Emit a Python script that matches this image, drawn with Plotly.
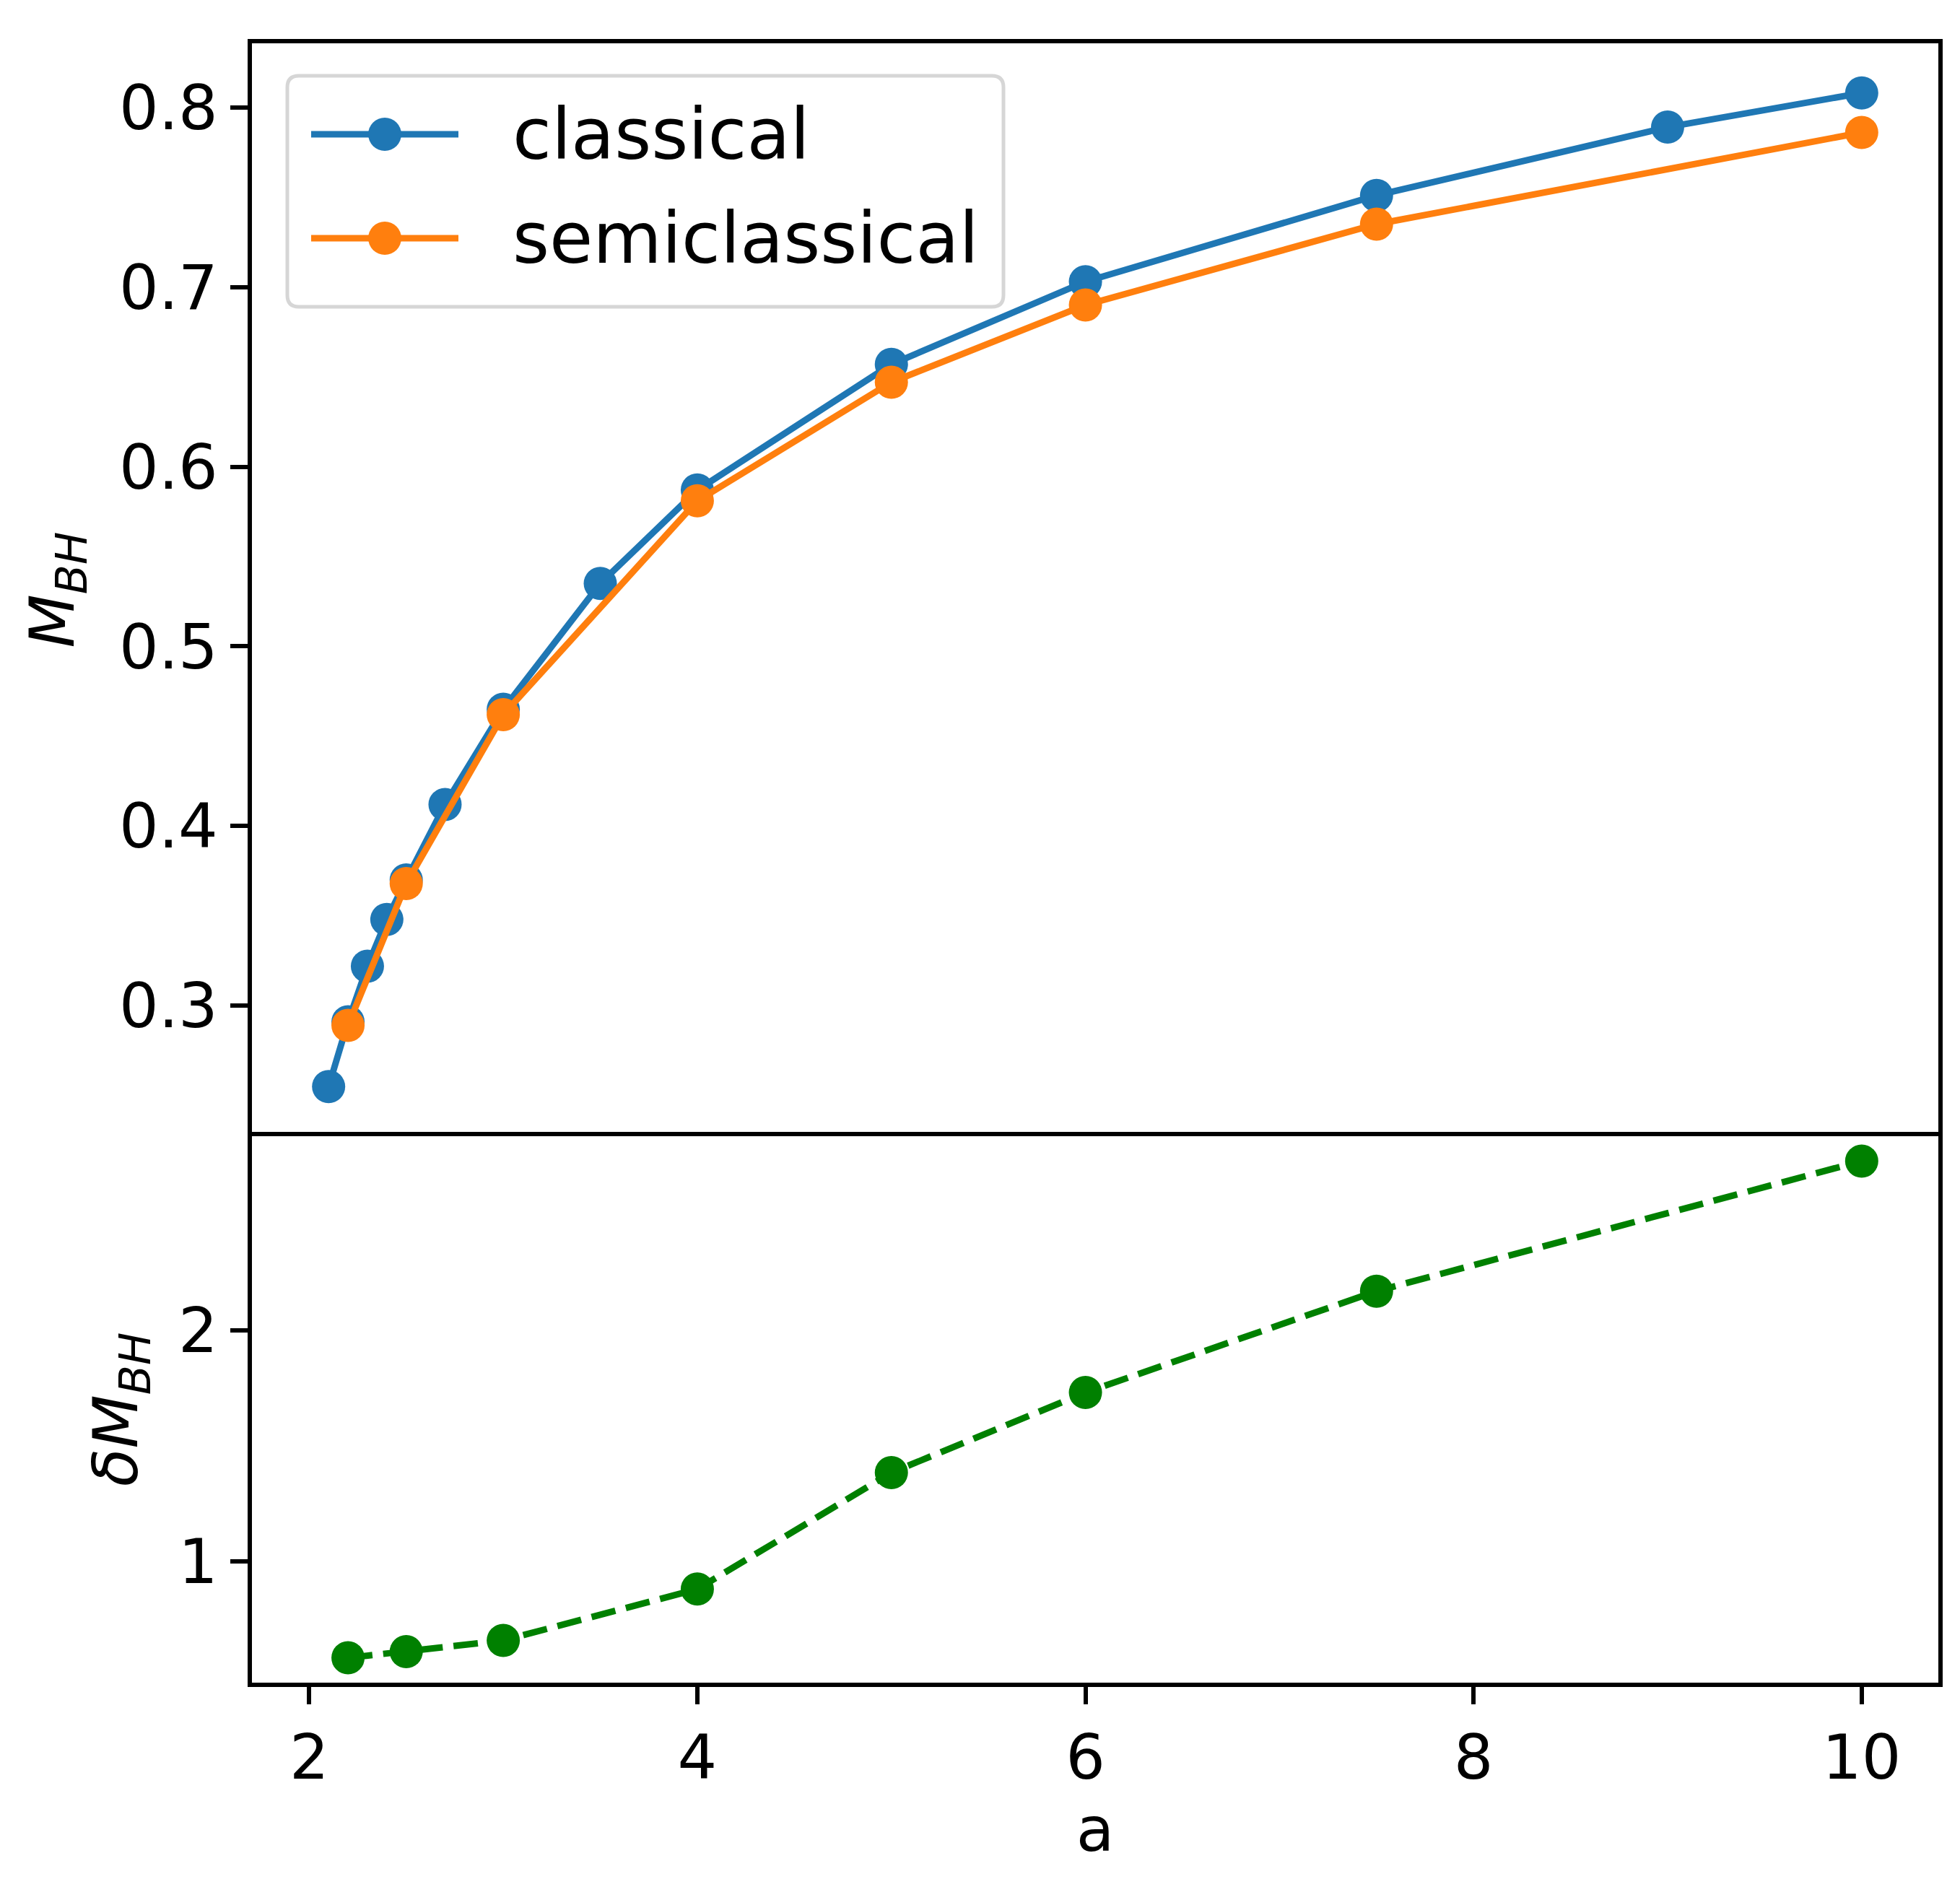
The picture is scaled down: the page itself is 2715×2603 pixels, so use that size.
import plotly.graph_objects as go
from plotly.subplots import make_subplots

# black hole mass vs a
a_classical = [2.1, 2.2, 2.3, 2.4, 2.5, 2.7, 3.0, 3.5, 4.0, 5.0, 6.0, 7.5, 9.0, 10.0]
m_classical = [0.255, 0.291, 0.322, 0.348, 0.370, 0.412, 0.465, 0.535, 0.587,
               0.657, 0.703, 0.751, 0.789, 0.808]

a_semi = [2.2, 2.5, 3.0, 4.0, 5.0, 6.0, 7.5, 10.0]
m_semi = [0.289, 0.368, 0.462, 0.581, 0.647, 0.690, 0.735, 0.786]

a_delta = [2.2, 2.5, 3.0, 4.0, 5.0, 6.0, 7.5, 10.0]
delta_m = [0.584, 0.611, 0.659, 0.881, 1.384, 1.730, 2.168, 2.730]

series_names = ["classical", "semiclassical"]

x_ticks = [2, 4, 6, 8, 10]
top_ticks = [0.3, 0.4, 0.5, 0.6, 0.7, 0.8]
bottom_ticks = [1, 2]

BLUE = "#1f77b4"
ORANGE = "#ff7f0e"
GREEN = "#008000"
FONT = "DejaVu Sans"
MSIZE = 46
LW = 9

W, H = 2715, 2603
PL, PR, PT, PB = 341, 2677, 52, 2323  # plot area in pixels


def px(x):
    return (x - PL) / (PR - PL)


def py(y):
    return (PB - y) / (PB - PT)


def padded(vals, frac=0.05):
    lo, hi = min(vals), max(vals)
    d = (hi - lo) * frac
    return [lo - d, hi + d]


fig = make_subplots(rows=2, cols=1, shared_xaxes=True, vertical_spacing=0,
                    row_heights=[2, 1])

fig.add_trace(go.Scatter(x=a_classical, y=m_classical, mode="lines+markers",
                         name=series_names[0],
                         line=dict(color=BLUE, width=LW),
                         marker=dict(color=BLUE, size=MSIZE)), row=1, col=1)
fig.add_trace(go.Scatter(x=a_semi, y=m_semi, mode="lines+markers",
                         name=series_names[1],
                         line=dict(color=ORANGE, width=LW),
                         marker=dict(color=ORANGE, size=MSIZE)), row=1, col=1)
fig.add_trace(go.Scatter(x=a_delta, y=delta_m, mode="lines+markers",
                         line=dict(color=GREEN, width=LW, dash="34px,15px"),
                         marker=dict(color=GREEN, size=MSIZE)), row=2, col=1)

axis_style = dict(showline=True, linecolor="black", linewidth=6, mirror=True,
                  showgrid=False, zeroline=False, ticks="outside",
                  ticklen=24, tickwidth=6, tickcolor="black",
                  tickfont=dict(family=FONT, size=86, color="black"))
title_font = dict(family=FONT, size=86, color="black")

x_range = padded(a_classical)
fig.update_xaxes(range=x_range, tickvals=x_ticks, **axis_style)
# top panel: only draw the top frame edge, the divider comes from the lower panel
fig.update_xaxes(showticklabels=False, ticks="", mirror=False, side="top",
                 row=1, col=1)
fig.update_xaxes(title=dict(text="a", font=title_font, standoff=16), row=2, col=1)

fig.update_yaxes(range=padded(m_classical + m_semi), tickvals=top_ticks,
                 tickformat=".1f", row=1, col=1, **axis_style)
fig.update_yaxes(range=padded(delta_m), tickvals=bottom_ticks, row=2, col=1,
                 **axis_style)
fig.update_yaxes(title=dict(text="<i>M</i><sub><i>BH</i></sub>",
                            font=title_font, standoff=36), row=1, col=1)
fig.update_yaxes(title=dict(text="<i>δM</i><sub><i>BH</i></sub>",
                            font=title_font, standoff=30), row=2, col=1)

# legend box drawn by hand so the symbols keep the full marker size
bx0, bx1, by0, by1, r = 390, 1382, 97, 417, 16
rx, ry = r / (PR - PL), r / (PB - PT)
X0, X1, Y0, Y1 = px(bx0), px(bx1), py(by0), py(by1)
box_path = (f"M{X0 + rx},{Y0} L{X1 - rx},{Y0} Q{X1},{Y0} {X1},{Y0 - ry} "
            f"L{X1},{Y1 + ry} Q{X1},{Y1} {X1 - rx},{Y1} "
            f"L{X0 + rx},{Y1} Q{X0},{Y1} {X0},{Y1 + ry} "
            f"L{X0},{Y0 - ry} Q{X0},{Y0} {X0 + rx},{Y0} Z")
fig.add_shape(type="path", path=box_path, xref="paper", yref="paper",
              fillcolor="rgba(255,255,255,0.8)", line=dict(color="#d6d6d6", width=5),
              layer="above")

for name, color, row_y in zip(series_names, [BLUE, ORANGE], [178, 322]):
    fig.add_shape(type="line", xref="paper", yref="paper",
                  x0=px(423), x1=px(627), y0=py(row_y), y1=py(row_y),
                  line=dict(color=color, width=LW), layer="above")
    fig.add_shape(type="circle", xref="paper", yref="paper",
                  xsizemode="pixel", ysizemode="pixel",
                  xanchor=px(525), yanchor=py(row_y),
                  x0=-MSIZE / 2, x1=MSIZE / 2, y0=-MSIZE / 2, y1=MSIZE / 2,
                  fillcolor=color, line=dict(width=0), layer="above")
    fig.add_annotation(text=name, xref="paper", yref="paper",
                       x=px(700), y=py(row_y), xanchor="left", yanchor="middle",
                       showarrow=False,
                       font=dict(family=FONT, size=98, color="black"))

fig.update_layout(
    width=W, height=H,
    margin=dict(l=PL, r=W - PR, t=PT, b=H - PB),
    paper_bgcolor="white", plot_bgcolor="white",
    font=dict(family=FONT, color="black"),
    showlegend=False,
)

fig.write_html("out.html")
